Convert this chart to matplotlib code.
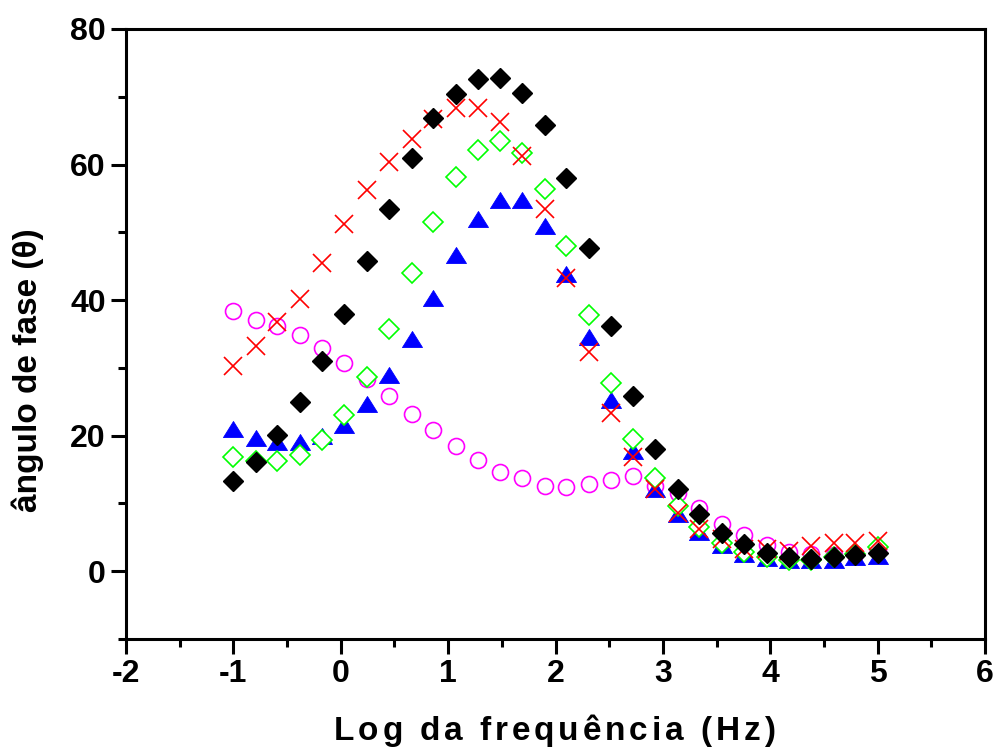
import matplotlib
matplotlib.use("Agg")
import matplotlib.pyplot as plt
from matplotlib import font_manager
from matplotlib.ft2font import FT2Font
from matplotlib.ticker import FixedLocator

# log10 of frequency (Hz), shared by all series
log_freq = [-1.00, -0.79, -0.59, -0.38, -0.17, 0.03, 0.24, 0.45, 0.66, 0.86,
            1.07, 1.28, 1.48, 1.69, 1.90, 2.10, 2.31, 2.52, 2.72, 2.93,
            3.14, 3.34, 3.55, 3.76, 3.97, 4.17, 4.38, 4.59, 4.79, 5.00]

# phase angle (degrees) for each sample
theta_black = [13.3, 16.1, 20.1, 25.0, 31.0, 37.9, 45.7, 53.5, 61.0, 66.8,
               70.4, 72.6, 72.7, 70.6, 65.8, 58.0, 47.7, 36.2, 25.8, 18.0,
               12.2, 8.4, 5.7, 4.0, 2.7, 2.1, 1.8, 2.1, 2.4, 2.7]
theta_red = [30.3, 33.2, 36.8, 40.1, 45.5, 51.2, 56.3, 60.4, 63.8, 66.7,
             68.3, 68.3, 66.3, 61.3, 53.4, 43.2, 32.4, 23.3, 16.9, 12.1,
             8.6, 6.3, 4.7, 3.3, 3.3, 3.0, 3.7, 4.1, 4.1, 4.5]
theta_green = [16.8, 16.3, 16.2, 17.1, 19.4, 23.1, 28.6, 35.7, 44.0, 51.5,
               58.1, 62.1, 63.5, 61.7, 56.4, 48.0, 37.8, 27.7, 19.5, 13.7,
               9.6, 6.5, 4.2, 2.8, 2.1, 1.6, 1.6, 2.1, 2.6, 3.6]
theta_blue = [21.0, 19.7, 19.0, 19.0, 20.0, 21.5, 24.7, 29.0, 34.2, 40.3,
              46.6, 52.0, 54.8, 54.8, 51.0, 43.8, 34.5, 25.2, 17.8, 12.2,
              8.5, 5.8, 3.8, 2.6, 1.9, 1.6, 1.6, 1.7, 2.1, 2.2]
theta_magenta = [38.4, 37.1, 36.2, 34.8, 33.0, 30.7, 28.3, 25.9, 23.2, 20.8,
                 18.5, 16.4, 14.7, 13.7, 12.5, 12.4, 12.8, 13.5, 14.0, 12.5,
                 11.5, 9.4, 7.0, 5.3, 3.8, 2.8, 2.6, 2.4, 2.6, 3.1]

x_ticks = [-2, -1, 0, 1, 2, 3, 4, 5, 6]
x_minor = [-1.5, -0.5, 0.5, 1.5, 2.5, 3.5, 4.5, 5.5]
y_ticks = [0, 20, 40, 60, 80]
y_minor = [-10, 10, 30, 50, 70]

xlabel_text = "Log da frequência (Hz)"
ylabel_text = "ângulo de fase (θ)"

plt.rcParams["font.family"] = ["Liberation Sans", "DejaVu Sans"]
plt.rcParams["font.weight"] = "bold"
plt.rcParams["axes.unicode_minus"] = False

W, H = 996, 749
fig = plt.figure(figsize=(W / 100, H / 100), dpi=100)
ax = fig.add_axes([126 / W, 1 - 639 / H, (985 - 126) / W, (639 - 29) / H])

# flat, wide triangle marker
tri = [(-1, -0.8), (1, -0.8), (0, 0.8), (-1, -0.8)]

ax.plot(log_freq, theta_magenta, ls="none", marker="o", ms=11.5,
        mfc="white", mec="#FF00FF", mew=1.2, zorder=3)
ax.plot(log_freq, theta_blue, ls="none", marker=tri, ms=14.4,
        mfc="#0000FF", mec="#0000FF", mew=0.6, zorder=4)
ax.plot(log_freq, theta_green, ls="none", marker="D", ms=10,
        mfc="white", mec="#00FF00", mew=1.2, zorder=5)
ax.plot(log_freq, theta_red, ls="none", marker="x", ms=13,
        mec="#FF0000", mew=1.2, zorder=6)
ax.plot(log_freq, theta_black, ls="none", marker="D", ms=10,
        mfc="black", mec="black", mew=1.0, zorder=7)

ax.set_xlim(-2, 6)
ax.set_ylim(-10, 80)
ax.set_xticks(x_ticks)
ax.set_yticks(y_ticks)
ax.xaxis.set_minor_locator(FixedLocator(x_minor))
ax.yaxis.set_minor_locator(FixedLocator(y_minor))
ax.set_xticklabels([str(v) for v in x_ticks])
ax.set_yticklabels([str(v) for v in y_ticks])

for s in ax.spines.values():
    s.set_linewidth(2.2)
ax.tick_params(which="major", direction="out", length=10.5, width=2.2,
               labelsize=23, pad=4, top=False, right=False)
ax.tick_params(which="minor", direction="out", length=5.5, width=2.2,
               top=False, right=False)
for lbl in ax.get_xticklabels() + ax.get_yticklabels():
    lbl.set_fontweight("bold")


def spaced_text(text, cx_px, baseline_px, width_px, size):
    """Draw a horizontal label with extra letter spacing."""
    prop = font_manager.FontProperties(family="Liberation Sans",
                                       weight="bold", size=size)
    ft = FT2Font(font_manager.findfont(prop), hinting_factor=1)
    ft.set_size(size, fig.dpi)
    adv = [ft.load_char(ord(ch)).linearHoriAdvance / 65536 for ch in text]
    gap = (width_px - sum(adv)) / (len(text) - 1)
    x = cx_px - width_px / 2
    for ch, a in zip(text, adv):
        if not ch.isspace():
            fig.text((x + a / 2) / W, 1 - baseline_px / H, ch,
                     ha="center", va="baseline", fontproperties=prop)
        x += a + gap


spaced_text(xlabel_text, 554.5, 740, 441, 24)
fig.text(28 / W, 1 - 370 / H, ylabel_text, rotation=90, ha="center",
         va="center", fontsize=24, fontweight="bold")

fig.savefig("out.png", dpi=100)
